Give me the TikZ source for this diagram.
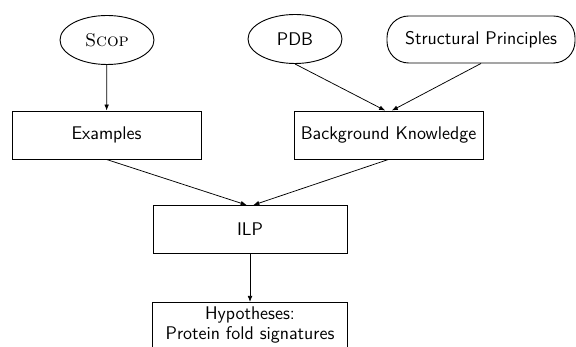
\documentclass[tikz,border=0pt]{standalone}
\usetikzlibrary{shapes.geometric,arrows.meta}
\begin{document}
\begin{tikzpicture}[x=0.6pt,y=-0.6pt,
  every node/.style={font=\sffamily\fontsize{11}{12.5}\selectfont, inner sep=2pt},
  src/.style={ellipse, draw, line width=0.55pt, minimum width=56.4pt, minimum height=29.4pt, inner sep=1pt},
  pill/.style={rectangle, rounded corners=13pt, draw, line width=0.55pt, minimum width=112.8pt, minimum height=28.2pt},
  boxnode/.style={rectangle, draw, line width=0.55pt, minimum width=113.4pt, minimum height=28.8pt},
  conn/.style={line width=0.45pt, -{Latex[length=3.6pt,width=2.8pt]}}
]
\useasboundingbox (0,0) rectangle (576,347);
\node[src] (scop) at (107,40) {\rmfamily\textsc{Scop}};
\node[src] (pdb) at (295,39) {PDB};
\node[pill] (sp) at (481,39.5) {Structural Principles};
\node[boxnode] (ex) at (106.5,135) {Examples};
\node[boxnode] (bk) at (388.5,135) {Background Knowledge};
\node[boxnode, minimum width=116.4pt] (ilp) at (250,229.5) {ILP};
\node[rectangle, minimum width=116.4pt, anchor=north, align=center, inner sep=2.8pt, font=\sffamily\fontsize{11}{11.6}\selectfont] (hyp) at (250,302) {Hypotheses:\\ Protein fold signatures};
\draw[line width=0.55pt] (hyp.north west) rectangle ([yshift=-34pt]hyp.north east);
\draw[conn] (scop) -- (ex);
\draw[conn] (pdb.south) -- ([xshift=-2pt]bk.north);
\draw[conn] (sp.south) -- ([xshift=2pt]bk.north);
\draw[conn] (ex.south) -- ([xshift=-2pt]ilp.north);
\draw[conn] (bk.south) -- ([xshift=2pt]ilp.north);
\draw[conn] (ilp) -- (hyp);
\end{tikzpicture}
\end{document}
